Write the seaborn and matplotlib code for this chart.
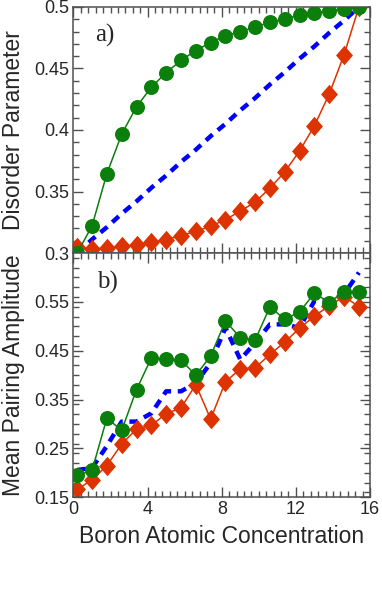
import numpy as np
import pandas as pd
import seaborn as sns
import matplotlib.pyplot as plt
from matplotlib.ticker import MultipleLocator

sns.set_style('ticks')
plt.rcParams['font.family'] = ['Liberation Sans', 'DejaVu Sans']

# boron concentration (x) shared by all series
conc = [0.2, 1.0, 1.8, 2.6, 3.4, 4.2, 5.0, 5.8, 6.6, 7.4,
        8.2, 9.0, 9.8, 10.6, 11.4, 12.2, 13.0, 13.8, 14.6, 15.4]

# panel a) disorder parameter
dis_green = [0.300, 0.322, 0.3645, 0.3966, 0.4189, 0.4347, 0.4467, 0.4565, 0.4646, 0.4711,
             0.4766, 0.4799, 0.4837, 0.4875, 0.4902, 0.4935, 0.4951, 0.497, 0.4984, 0.500]
dis_red = [0.3046, 0.3033, 0.304, 0.3054, 0.3068, 0.3087, 0.3109, 0.3141, 0.3177, 0.3218,
           0.3272, 0.334, 0.3414, 0.3528, 0.3659, 0.383, 0.4034, 0.4293, 0.4611, 0.500]
dis_blue = [0.300, 0.311, 0.321, 0.332, 0.342, 0.353, 0.363, 0.374, 0.384, 0.395,
            0.405, 0.416, 0.426, 0.437, 0.447, 0.458, 0.468, 0.479, 0.489, 0.500]

# panel b) mean pairing amplitude
amp_green = [0.195, 0.205, 0.312, 0.287, 0.3705, 0.435, 0.4336, 0.4308, 0.400, 0.439,
             0.511, 0.4767, 0.4719, 0.5397, 0.5144, 0.5295, 0.5678, 0.5486, 0.5712, 0.5712]
amp_red = [0.1664, 0.1856, 0.215, 0.2589, 0.2897, 0.2973, 0.3212, 0.3329, 0.3808, 0.3103,
           0.3863, 0.413, 0.4151, 0.4425, 0.4678, 0.4959, 0.5212, 0.5418, 0.561, 0.5404]
amp_blue = [0.206, 0.21, 0.255, 0.305, 0.305, 0.322, 0.367, 0.367, 0.384, 0.425,
            0.497, 0.432, 0.466, 0.504, 0.504, 0.497, 0.552, 0.552, 0.566, 0.61]

green = '#0b7f0b'
red = '#dd3300'
blue = '#0000ff'
edge = '#505050'

# slightly tall diamond like the original
diamond = [(0, 1), (0.87, 0), (0, -1), (-0.87, 0), (0, 1)]

fig = plt.figure(figsize=(3.82, 6.01), dpi=100)
ax1 = fig.add_axes([0.1924, 0.579, 0.7762, 0.4094])
ax2 = fig.add_axes([0.1924, 0.1725, 0.7762, 0.4065])


def draw(ax, yb, yr, yg):
    sns.lineplot(x=conc, y=yb, ax=ax, color=blue, linewidth=3.2,
                 linestyle=(0, (2, 1.5)))
    sns.lineplot(x=conc, y=yr, ax=ax, color=red, linewidth=1.1,
                 marker=diamond, markersize=14, markeredgewidth=0)
    sns.lineplot(x=conc, y=yg, ax=ax, color=green, linewidth=1.1,
                 marker='o', markersize=10.8, markeredgewidth=0)
    ax.set_xlim(0, 16)
    ax.xaxis.set_major_locator(MultipleLocator(4))
    ax.xaxis.set_minor_locator(MultipleLocator(0.4))
    ax.tick_params(which='both', direction='in', top=True, right=True,
                   color=edge, width=1.0, labelsize=13, pad=3)
    ax.tick_params(which='major', length=7)
    ax.tick_params(which='minor', length=4)
    for s in ax.spines.values():
        s.set_color(edge)
        s.set_linewidth(1.1)


draw(ax1, dis_blue, dis_red, dis_green)
ax1.set_ylim(0.3, 0.5)
ax1.set_yticks([0.3, 0.35, 0.4, 0.45, 0.5])
ax1.set_yticklabels(['0.3', '0.35', '0.4', '0.45', '0.5'])
ax1.yaxis.set_minor_locator(MultipleLocator(0.01))
ax1.tick_params(labelbottom=False)
ax1.set_ylabel('Disorder Parameter', fontsize=16.5)
ax1.yaxis.set_label_coords(-0.163, 0.5)
ax1.text(0.107, 0.885, 'a)', transform=ax1.transAxes, fontsize=18,
         family='Liberation Serif', ha='center', va='center')

draw(ax2, amp_blue, amp_red, amp_green)
ax2.set_ylim(0.15, 0.65)
ax2.set_yticks([0.15, 0.25, 0.35, 0.45, 0.55])
ax2.set_yticklabels(['0.15', '0.25', '0.35', '0.45', '0.55'])
ax2.yaxis.set_minor_locator(MultipleLocator(0.02))
ax2.set_ylabel('Mean Pairing Amplitude', fontsize=16.5)
ax2.yaxis.set_label_coords(-0.163, 0.5)
ax2.set_xlabel('Boron Atomic Concentration', fontsize=16.5, labelpad=5)
ax2.text(0.113, 0.88, 'b)', transform=ax2.transAxes, fontsize=18,
         family='Liberation Serif', ha='center', va='center')

fig.savefig('out.png', dpi=100)
